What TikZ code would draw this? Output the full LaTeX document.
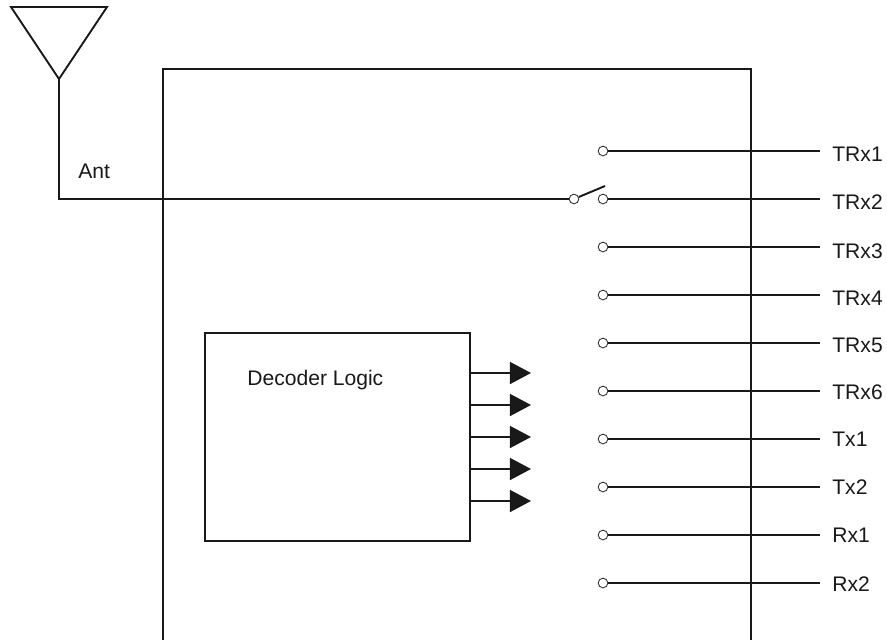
\documentclass[tikz,border=0pt]{standalone}
\usepackage{fontspec}
\setmainfont{Liberation Sans}
\usetikzlibrary{positioning}
\usetikzlibrary{arrows.meta}
\tikzset{
  wire/.style={line width=1.1pt,black!90},
  contact/.style={circle,draw=black!80,fill=white,line width=0.5pt,inner sep=0pt,minimum size=5.5pt},
  lbl/.style={inner sep=0pt,anchor=west,font=\fontsize{12}{14}\selectfont,text=black!90},
  fat/.style={-{Triangle[length=12pt,width=12.5pt]},line width=1.1pt,black!90}
}
\begin{document}
\begin{tikzpicture}[x=0.02cm,y=-0.02cm]
 \useasboundingbox (0,0) rectangle (887,640);
 \coordinate (ula) at (11,7);
 \coordinate (ura) at (107,7);
 \coordinate (tip) at (59,79);
 \coordinate (crn) at (59,199);
 \draw[wire,line join=miter](ula)--(ura)--(tip)--cycle;
 \draw[wire](163,640)--(163,69)--(751,69)--(751,640);
 \node[lbl] (ant) at (78,171) {Ant};
 \node[contact] (pole) at (574,199) {};
 \coordinate (blade) at (605,186);
 \draw[wire](tip)--(crn)--(pole);
 \draw[wire](pole)--(blade);
 \foreach \name/\ypos/\ytxt in {TRx1/151/154.5,TRx2/199/202.5,TRx3/247/251,TRx4/295/298,TRx5/343/345,TRx6/391/392.5,Tx1/439/439.5,Tx2/487/487.5,Rx1/535/535.5,Rx2/583/584.5}{
  \node[contact] (c\name) at (603,\ypos) {};
  \coordinate (e\name) at (820,\ypos);
  \node[lbl] (l\name) at (832,\ytxt) {\name};
  \draw[wire](c\name)--(e\name);
 }
 \node[draw,wire,minimum width=5.3cm,minimum height=4.16cm,inner sep=0pt] (dec) at (337.5,437) {};
 \node[lbl] (declbl) at (247,380) {Decoder Logic};
 \foreach \i/\ypos in {1/373,2/405,3/437,4/469,5/501}{
  \coordinate (a\i) at (dec.east |- 0,\ypos);
  \coordinate (b\i) at (531,\ypos);
  \draw[fat](a\i)--(b\i);
 }
\end{tikzpicture}
\end{document}
